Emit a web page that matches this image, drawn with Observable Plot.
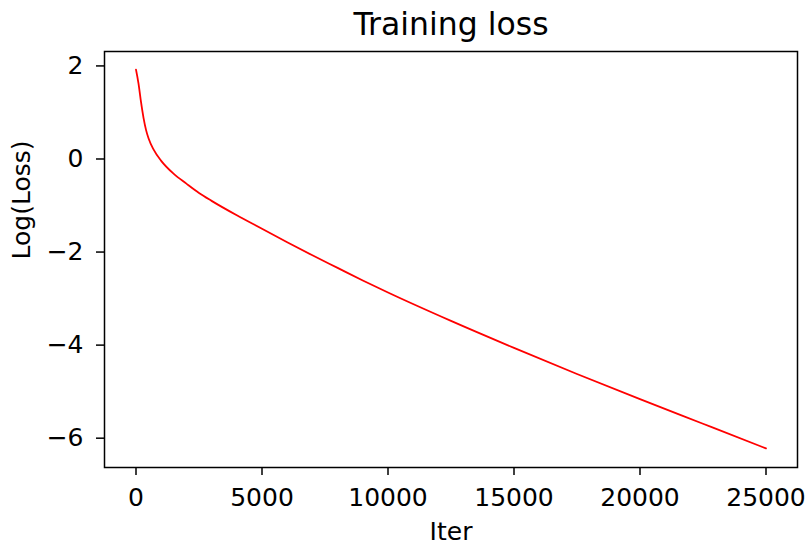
<!DOCTYPE html>
<html>
<head>
<meta charset="utf-8">
<script src="https://cdn.jsdelivr.net/npm/d3@7"></script>
<script src="https://cdn.jsdelivr.net/npm/@observablehq/plot@0.6"></script>
<style>
  html, body { margin: 0; padding: 0; background: #fff; }
  #chart svg { display: block; }
</style>
</head>
<body>
<div id="chart"></div>
<script>
const titleText = "Training loss";
const xLabel = "Iter";
const yLabel = "Log(Loss)";
const iters = [0, 100, 200, 300, 400, 500, 700, 1000, 1500, 2000, 2500, 3000, 4000, 5000, 6000, 7000, 8000, 9000, 10000, 12500, 15000, 17500, 20000, 22500, 24999];
const logLoss = [1.92, 1.62, 1.22, 0.88, 0.62, 0.44, 0.20, -0.04, -0.32, -0.53, -0.73, -0.90, -1.21, -1.50, -1.79, -2.07, -2.34, -2.61, -2.87, -3.48, -4.06, -4.62, -5.16, -5.69, -6.22];
const xTicks = [0, 5000, 10000, 15000, 20000, 25000];
const yTicks = [2, 0, -2, -4, -6];

const data = iters.map((it, i) => ({iter: it, loss: logLoss[i]}));
const font = "DejaVu Sans";

const chart = Plot.plot({
  width: 807,
  height: 544,
  marginLeft: 104,
  marginRight: 10,
  marginTop: 51,
  marginBottom: 77,
  style: {fontFamily: font, background: "#fff", color: "#000"},
  x: {domain: [-1250, 26250]},
  y: {domain: [-6.63, 2.31]},
  marks: [
    Plot.line(data, {x: "iter", y: "loss", stroke: "#ff0000", strokeWidth: 1.8, curve: "monotone-x"}),
    Plot.frame({stroke: "#000", strokeWidth: 1.5}),
    Plot.axisX({ticks: xTicks, tickFormat: d => String(d), tickSize: 8, tickPadding: 13, fontSize: 25, label: null, stroke: "#000", strokeWidth: 1.5, fill: "#000"}),
    Plot.axisY({ticks: yTicks, tickFormat: d => d < 0 ? "\u2212" + Math.abs(d) : String(d), tickSize: 8, tickPadding: 13, fontSize: 25, label: null, stroke: "#000", strokeWidth: 1.5, fill: "#000"}),
    Plot.text([titleText], {frameAnchor: "top", dy: -16.5, lineAnchor: "bottom", fontSize: 31.5, fill: "#000", text: d => d}),
    Plot.text([xLabel], {frameAnchor: "bottom", dy: 72, lineAnchor: "bottom", fontSize: 25, fill: "#000", text: d => d}),
    Plot.text([yLabel], {frameAnchor: "left", dx: -75, rotate: -90, lineAnchor: "bottom", fontSize: 25, fill: "#000", text: d => d})
  ]
});
document.getElementById("chart").appendChild(chart);
</script>
</body>
</html>
